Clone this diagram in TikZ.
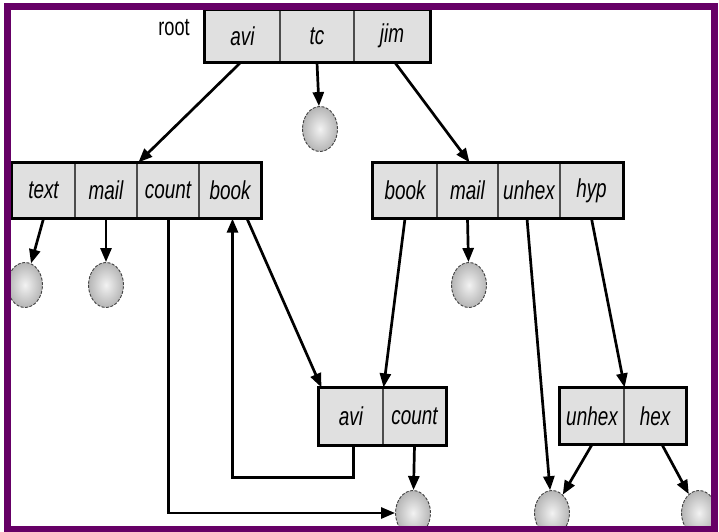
\documentclass[tikz,border=0pt]{standalone}
\usepackage{fontspec}
\setmainfont{Liberation Sans}
\newfontfamily\cellfont{Liberation Sans}[FakeStretch=0.73]
\usetikzlibrary{arrows.meta,shapes.geometric}
\definecolor{framepurple}{RGB}{102,0,102}
\definecolor{cellgray}{RGB}{224,224,224}
\begin{document}
\begin{tikzpicture}[x=1bp,y=-1bp,
  cell/.style={rectangle, draw=black!70, line width=1.2bp, fill=cellgray,
    inner sep=0pt, font=\cellfont\itshape\fontsize{26}{28}\selectfont},
  outerbox/.style={draw=black, line width=2.4bp},
  leaf/.style={ellipse, minimum width=35bp, minimum height=45bp, inner sep=0pt,
    draw=black!75, line width=0.9bp, dash pattern=on 3bp off 1.5bp,
    shading=radial, inner color=gray!10, outer color=gray!58},
  arr/.style={line width=2.7bp, -{Triangle[length=14bp,width=11bp]}},
  lbl/.style={font=\cellfont\fontsize{25}{27}\selectfont, inner sep=0pt}]
\useasboundingbox (0,0) rectangle (719,532);
\fill[white] (0,0) rectangle (719,532);

% root record
\node[cell, minimum width=75bp, minimum height=52bp] (r-avi) at (242.5,36) {avi};
\node[cell, minimum width=74bp, minimum height=52bp] (r-tc)  at (317,36)   {tc};
\node[cell, minimum width=76bp, minimum height=52bp] (r-jim) at (392,36)   {jim};
\draw[outerbox] (r-avi.north west) rectangle (r-jim.south east);
\node[lbl] (rootlbl) at (174,28) {root};

% second level, left record
\node[cell, minimum width=63bp, minimum height=55bp] (l-text)  at (43.5,190.5) {text};
\node[cell, minimum width=62bp, minimum height=55bp] (l-mail)  at (106,190.5)  {mail};
\node[cell, minimum width=62bp, minimum height=55bp] (l-count) at (168,190.5)  {count};
\node[cell, minimum width=62bp, minimum height=55bp] (l-book)  at (230,190.5)  {book};
\draw[outerbox] (l-text.north west) rectangle (l-book.south east);

% second level, right record
\node[cell, minimum width=64bp, minimum height=55bp] (m-book)  at (405,190.5)   {book};
\node[cell, minimum width=61bp, minimum height=55bp] (m-mail)  at (467.5,190.5) {mail};
\node[cell, minimum width=62bp, minimum height=55bp] (m-unhex) at (529,190.5)   {unhex};
\node[cell, minimum width=63bp, minimum height=55bp] (m-hyp)   at (591.5,190.5) {hyp};
\draw[outerbox] (m-book.north west) rectangle (m-hyp.south east);

% third level records
\node[cell, minimum width=64bp, minimum height=57bp] (c-avi)   at (351,416.5)   {avi};
\node[cell, minimum width=63bp, minimum height=57bp] (c-count) at (414.5,416.5) {count};
\draw[outerbox] (c-avi.north west) rectangle (c-count.south east);

\node[cell, minimum width=64bp, minimum height=56bp] (h-unhex) at (592,416) {unhex};
\node[cell, minimum width=62bp, minimum height=56bp] (h-hex)   at (655,416) {hex};
\draw[outerbox] (h-unhex.north west) rectangle (h-hex.south east);

% leaf files
\node[leaf] (f-tc)    at (320,129) {};
\node[leaf] (f-text)  at (25,285)  {};
\node[leaf] (f-lmail) at (106,285) {};
\node[leaf] (f-rmail) at (469,285) {};
\node[leaf] (f-b1)    at (413,513) {};
\node[leaf] (f-b2)    at (552,513) {};
\node[leaf] (f-b3)    at (699,513) {};

% links
\draw[arr] ([xshift=-2bp]r-avi.south) -- ([xshift=2bp]l-count.north west);
\draw[arr] (r-tc.south) -- (f-tc);
\draw[arr] ([xshift=3bp]r-jim.south) -- ([xshift=2bp]m-mail.north);

\draw[arr] (l-text.south) -- (f-text);
\draw[arr] (l-mail.south) -- (f-lmail);
\draw[arr] ([xshift=0.5bp]l-count.south) |- (f-b1);
\draw[arr] ([xshift=17bp]l-book.south) -- ([xshift=3bp]c-avi.north west);

\draw[arr] (m-book.south) -- (c-avi.north east);
\draw[arr] (m-mail.south) -- (f-rmail);
\draw[arr] ([xshift=-2bp]m-unhex.south) -- (f-b2);
\draw[arr] (m-hyp.south) -- (h-unhex.north east);

\draw[arr] ([xshift=2.5bp]c-avi.south) -- ++(0,32) -| ([xshift=2.5bp]l-book.south);
\draw[arr] (c-count.south) -- (f-b1);

\draw[arr] (h-unhex.south) -- (f-b2);
\draw[arr] ([xshift=7bp]h-hex.south) -- (f-b3);

% page frame
\draw[framepurple, line width=7.5bp] (7.5,6.75) rectangle (714.5,529.5);
\end{tikzpicture}
\end{document}
